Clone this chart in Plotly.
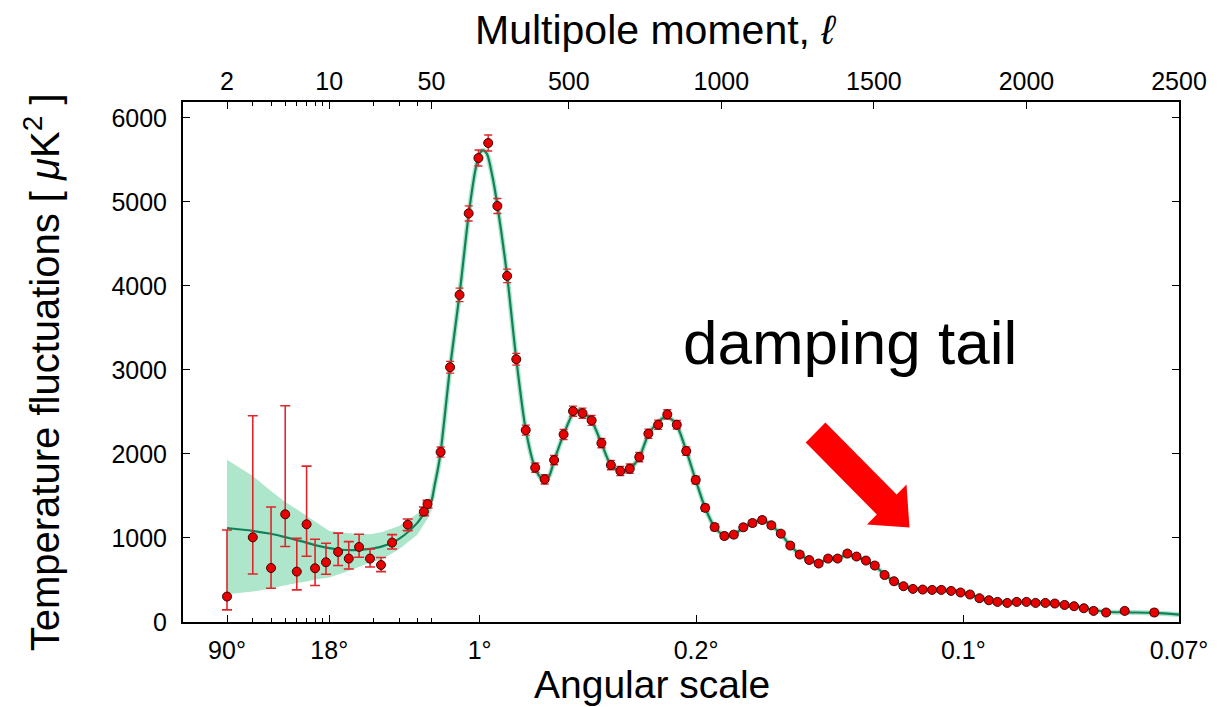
import numpy as np
import plotly.graph_objects as go

# ---------------- band powers, low multipoles (asymmetric errors) ----------------
low_ell = [2, 3, 4, 5, 6, 7, 8, 9.5, 11.5, 13.6, 16.0, 19.0, 22.6, 26.9, 34.4, 44.4, 47.0]
low_dl = [303, 1008, 643, 1282, 600, 1163, 640, 711, 834, 755, 893, 755, 679, 945, 1159, 1314, 1404]
low_upper = [1095, 2456, 1369, 2574, 996, 1856, 985, 937, 1058, 957, 1044, 869, 767, 1040, 1226, 1369, 1448]
low_lower = [144, 572, 402, 898, 382, 782, 434, 568, 672, 631, 770, 655, 600, 869, 1088, 1266, 1357]

# ---------------- band powers, high multipoles ----------------
high_ell = [80, 111, 142, 172, 204, 236, 266, 298, 328, 359,
            390, 421, 452, 483, 514, 545, 575, 607, 638, 669,
            700, 731, 761, 793, 823, 854, 885, 916, 947, 978,
            1010, 1041, 1072, 1102, 1134, 1164, 1195, 1226, 1257, 1288,
            1319, 1350, 1381, 1413, 1443, 1474, 1503, 1535, 1566, 1597,
            1628, 1660, 1691, 1721, 1753, 1784, 1815, 1846, 1877, 1905,
            1937, 1968, 2000, 2030, 2062, 2093, 2125, 2156, 2188, 2220,
            2261, 2322, 2419]
high_dl = [2023, 3033, 3894, 4864, 5523, 5702, 4952, 4120, 3128, 2284,
           1837, 1698, 1927, 2233, 2510, 2486, 2400, 2130, 1868, 1797,
           1825, 1963, 2241, 2348, 2471, 2348, 2035, 1690, 1359, 1130,
           1024, 1040, 1127, 1178, 1214, 1151, 1052, 910, 803, 738,
           696, 755, 755, 815, 779, 731, 672, 560, 485, 426,
           394, 386, 382, 382, 370, 351, 327, 283, 259, 239,
           227, 239, 239, 227, 227, 220, 203, 188, 164, 132,
           113, 132, 113]
high_err = [60, 70, 80, 90, 95, 95, 90, 80, 70, 60,
            55, 55, 55, 60, 60, 60, 60, 55, 55, 55,
            55, 55, 55, 55, 55, 50, 50, 45, 40, 40,
            35, 35, 35, 35, 35, 35, 30, 30, 30, 30,
            30, 30, 30, 30, 30, 30, 30, 28, 28, 28,
            28, 28, 28, 28, 28, 28, 28, 28, 28, 28,
            28, 28, 28, 28, 28, 28, 28, 28, 28, 28,
            30, 30, 35]

# ---------------- best-fit model spectrum ----------------
model_ell = [2, 3, 4, 5, 6, 7, 8, 10, 12, 15, 19, 23, 30, 40, 47, 50,
             60, 70, 80, 111, 142, 172, 195, 210, 220, 232, 250, 266, 298, 328,
             359, 390, 410, 421, 435, 452, 483, 514, 535, 545, 575, 607, 638, 669,
             685, 700, 731, 761, 793, 815, 830, 854, 885, 916, 947, 978, 1010, 1030,
             1041, 1072, 1102, 1134, 1150, 1164, 1195, 1226, 1257, 1288, 1319, 1340,
             1381, 1413, 1443, 1474, 1503, 1535, 1566, 1597, 1628, 1660, 1691, 1721,
             1753, 1784, 1815, 1846, 1877, 1905, 1937, 1968, 2000, 2030, 2062, 2093,
             2125, 2156, 2188, 2220, 2261, 2322, 2419, 2500]
model_dl = [1119, 1085, 1050, 1010, 975, 945, 915, 880, 860, 855, 870, 900, 990, 1180, 1360, 1440,
            1620, 1800, 2020, 3030, 3900, 4850, 5400, 5590, 5615, 5570, 5300, 4960, 4120, 3130,
            2290, 1830, 1710, 1690, 1730, 1920, 2230, 2480, 2520, 2500, 2390, 2130, 1870, 1800,
            1790, 1820, 1960, 2230, 2380, 2440, 2430, 2340, 2040, 1690, 1360, 1130, 1030, 1020,
            1040, 1120, 1180, 1205, 1190, 1150, 1050, 910, 805, 738, 710, 730,
            770, 790, 775, 730, 670, 565, 485, 430, 400, 390, 383, 380,
            372, 355, 330, 290, 262, 245, 237, 236, 236, 230, 225, 218,
            205, 188, 168, 145, 122, 115, 108, 88]

# cosmic-variance envelope at low multipoles
band_ell = [2, 3, 4, 5, 6, 7, 8, 10, 13.6, 19, 23, 30, 40, 47, 50, 55, 62]
band_hi = [1931, 1737, 1559, 1428, 1341, 1262, 1202, 1083, 1056, 1044, 1071, 1143, 1290, 1430, 1520, 1660, 1720]
band_lo = [331, 362, 398, 438, 460, 481, 505, 529, 608, 707, 747, 866, 1040, 1230, 1330, 1480, 1660]

# ---------------- axis ticks ----------------
ell_ticks = [2, 10, 50, 500, 1000, 1500, 2000, 2500]
ell_labels = ["2", "10", "50", "500", "1000", "1500", "2000", "2500"]
top_minor = [3, 4, 5, 6, 7, 8, 9, 20, 30, 40]
angle_ticks_ell = [2, 10, 208, 917, 1793, 2500]
angle_labels = ["90°", "18°", "1°", "0.2°", "0.1°", "0.07°"]
bottom_minor = [3, 4, 5, 6, 7, 8, 9, 20, 30, 40, 50]

# hybrid multipole axis: logarithmic up to ell = 50, linear beyond
ELL_SPLIT = 50.0
ELL_PER_DECADE = 479.3


def to_axis(ell):
    ell = np.asarray(ell, dtype=float)
    return np.where(ell <= ELL_SPLIT, np.log10(ell),
                    np.log10(ELL_SPLIT) + (ell - ELL_SPLIT) / ELL_PER_DECADE)


x_range = [float(to_axis(1.0)), float(to_axis(2500))]

BAND = "#aee6cc"
MODEL = "#12815a"
RED = "#e80000"
ERR = "#e0262b"

fig = go.Figure()

# low-ell cosmic-variance band
fig.add_trace(go.Scatter(
    x=np.concatenate([to_axis(band_ell), to_axis(band_ell[::-1])]),
    y=band_hi + band_lo[::-1],
    fill="toself", fillcolor=BAND, line=dict(width=0, color=BAND),
    mode="lines", hoverinfo="skip"))

# thin envelope following the model at high ell
fig.add_trace(go.Scatter(
    x=to_axis(model_ell[15:]), y=model_dl[15:], mode="lines",
    line=dict(color=BAND, width=5, shape="spline", smoothing=0.8),
    hoverinfo="skip"))

# best-fit model
fig.add_trace(go.Scatter(
    x=to_axis(model_ell), y=model_dl, mode="lines",
    line=dict(color=MODEL, width=2.2, shape="spline", smoothing=0.8)))

marker_style = dict(size=9, color=RED, line=dict(color="#3a0505", width=1))

fig.add_trace(go.Scatter(
    x=to_axis(low_ell), y=low_dl, mode="markers", marker=marker_style,
    error_y=dict(type="data", symmetric=False,
                 array=[u - d for u, d in zip(low_upper, low_dl)],
                 arrayminus=[d - l for d, l in zip(low_dl, low_lower)],
                 color=ERR, thickness=1.6, width=5)))

fig.add_trace(go.Scatter(
    x=to_axis(high_ell), y=high_dl, mode="markers", marker=marker_style,
    error_y=dict(type="data", array=high_err, color=ERR, thickness=1.4, width=4)))

# invisible trace that carries the top (multipole) axis
fig.add_trace(go.Scatter(x=x_range, y=[0, 0], xaxis="x2", mode="lines",
                         line=dict(width=0), hoverinfo="skip"))

# plot area in pixels, used to place the decorations
L, R, T, B = 183, 1190.7, 102.3, 622.5


def paper(px, py):
    return (px - L) / (R - L), (B - py) / (B - T)


tick_font = dict(size=25, color="black", family="Liberation Sans, Arial, sans-serif")

fig.update_layout(
    width=1219, height=707,
    margin=dict(l=L, r=1219 - R, t=T, b=707 - B),
    plot_bgcolor="white", paper_bgcolor="white", showlegend=False,
    font=dict(family="Liberation Sans, Arial, sans-serif", color="black"),
    xaxis=dict(range=x_range, tickmode="array", tickvals=to_axis(angle_ticks_ell),
               ticktext=angle_labels, ticks="inside", ticklen=7, tickwidth=1,
               tickcolor="black", showline=True, linecolor="black", linewidth=2,
               showgrid=False, zeroline=False, tickfont=tick_font,
               ticklabelstandoff=5,
               minor=dict(tickmode="array", tickvals=to_axis(bottom_minor), ticks="inside",
                          ticklen=4, tickwidth=1, tickcolor="black", showgrid=False)),
    xaxis2=dict(range=x_range, overlaying="x", side="top", anchor="y",
                tickmode="array", tickvals=to_axis(ell_ticks), ticktext=ell_labels,
                ticks="inside", ticklen=7, tickwidth=1, tickcolor="black",
                showline=True, linecolor="black", linewidth=2, showgrid=False,
                zeroline=False, tickfont=tick_font, ticklabelstandoff=0,
                minor=dict(tickmode="array", tickvals=to_axis(top_minor), ticks="inside",
                           ticklen=4, tickwidth=1, tickcolor="black", showgrid=False)),
    yaxis=dict(range=[0, 6190], tickmode="linear", tick0=0, dtick=1000,
               ticks="inside", ticklen=7, tickwidth=1, tickcolor="black",
               showline=True, linecolor="black", linewidth=2, mirror="ticks",
               showgrid=False, zeroline=False, tickfont=tick_font,
               ticklabelstandoff=9),
)

# axis titles
ax, ay = paper(661, 30)
fig.add_annotation(x=ax, y=ay, xref="paper", yref="paper", showarrow=False,
                   text="Multipole moment, <i>ℓ</i>", font=dict(size=41),
                   xanchor="center", yanchor="middle")
ax, ay = paper(658, 685)
fig.add_annotation(x=ax, y=ay, xref="paper", yref="paper", showarrow=False,
                   text="Angular scale", font=dict(size=39),
                   xanchor="center", yanchor="middle")
ax, ay = paper(40, 373)
fig.add_annotation(x=ax, y=ay, xref="paper", yref="paper", showarrow=False,
                   text="Temperature fluctuations [ <i>μ</i>K<sup>2</sup> ]",
                   font=dict(size=40), textangle=-90,
                   xanchor="center", yanchor="middle")

# damping-tail callout
ax, ay = paper(858, 343)
fig.add_annotation(x=ax, y=ay, xref="paper", yref="paper", showarrow=False,
                   text="damping tail", font=dict(size=62, color="black"),
                   xanchor="center", yanchor="middle")

arrow_px = [(833, 423), (905, 495), (915, 485), (918, 528), (875, 525), (885, 515), (813, 443)]
pts = [paper(px, py) for px, py in arrow_px]
path = "M " + " L ".join(f"{x:.4f},{y:.4f}" for x, y in pts) + " Z"
fig.add_shape(type="path", path=path, xref="paper", yref="paper",
              fillcolor="#ff0000", line=dict(width=0))

fig.write_html("out.html")
